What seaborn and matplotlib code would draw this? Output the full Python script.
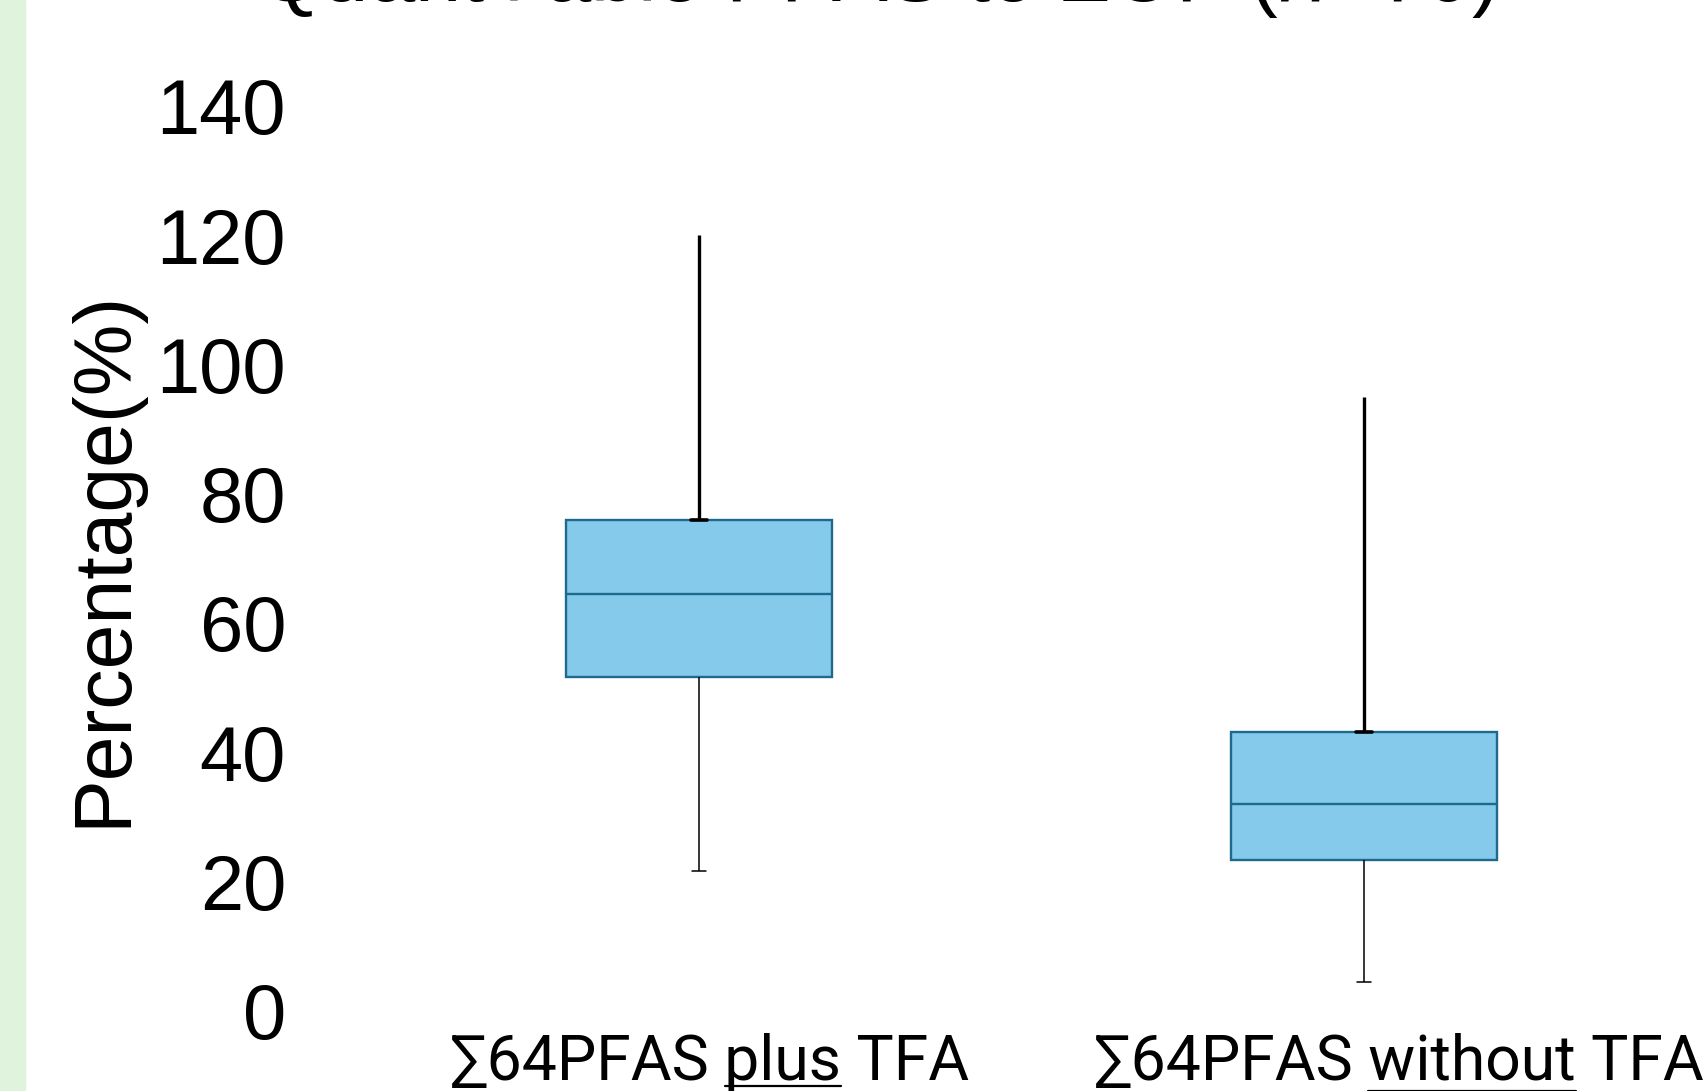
import numpy as np
import pandas as pd
import matplotlib
matplotlib.use("Agg")
import matplotlib.pyplot as plt
import matplotlib.transforms as mtransforms
from matplotlib.lines import Line2D
import seaborn as sns

# ── Data (five-number summaries, in %) ────────────────────────────────────────
groups       = ["plus", "without"]
label_prefix = "∑64PFAS "
label_words  = ["plus", "without"]
label_suffix = " TFA"
minimum      = [21.6, 4.4]
q1           = [51.6, 23.3]
median       = [64.5, 32.0]
q3           = [76.0, 43.1]
maximum      = [120.0, 94.9]
y_ticks      = [0, 20, 40, 60, 80, 100, 120, 140]

title_text   = r"Quantifiable PFAS to ΣOF ($n$=70)"

# ── Style ─────────────────────────────────────────────────────────────────────
_FILL  = "#85CAEA"
_EDGE  = "#1D6A8E"
_GREEN = "#E0F3DC"
_XFONT = 45

sns.set_style("white")
plt.rcParams["font.family"] = ["Roboto", "DejaVu Sans"]
for key in ("text.color", "axes.labelcolor", "xtick.color", "ytick.color"):
    plt.rcParams[key] = "black"

# five values per group -> quartiles land exactly on q1/median/q3
rows = []
for i, g in enumerate(groups):
    for v in (minimum[i], q1[i], median[i], q3[i], maximum[i]):
        rows.append({"group": g, "value": v})
df = pd.DataFrame(rows)

fig = plt.figure(figsize=(17.08, 10.91), dpi=100)
ax = fig.add_axes([0.1756, 0.0734, 0.8176, 0.8297])

sns.boxplot(data=df, x="group", y="value", order=groups, ax=ax,
            whis=np.inf, width=0.4, color=_FILL, saturation=1,
            linecolor=_EDGE, linewidth=1.7,
            whiskerprops=dict(color="black", linewidth=1.1),
            capprops=dict(color="black", linewidth=1.1),
            capwidths=0.02, showfliers=False)

# upper whiskers thicker, cap sits at the box top, no cap at the end
caps = []
for line in ax.lines:
    x, y = line.get_xdata(), line.get_ydata()
    if len(x) != 2:
        continue
    if x[0] == x[1] and y[1] > y[0]:
        line.set_linewidth(2.4)
    elif y[0] == y[1] and abs(x[1] - x[0]) < 0.1:
        caps.append(line)
for i in range(len(groups)):
    pos_caps = [c for c in caps if abs(np.mean(c.get_xdata()) - i) < 0.05]
    pos_caps.sort(key=lambda c: c.get_ydata()[0])
    if len(pos_caps) == 2:
        upper = pos_caps[1]
        upper.set_ydata([q3[i], q3[i]])
        upper.set_linewidth(2.6)
        c = np.mean(upper.get_xdata())
        upper.set_xdata([c - 0.012, c + 0.012])

ax.set_ylim(0, 140)
ax.set_xlim(-0.6, 1.5)
ax.set_yticks(y_ticks)
ax.set_yticklabels([str(t) for t in y_ticks], fontfamily="Liberation Sans", fontsize=56)
ax.set_xticks(range(len(groups)))
ax.set_xticklabels([label_prefix + w + label_suffix for w in label_words], fontsize=_XFONT)
ax.tick_params(axis="both", length=0)
ax.tick_params(axis="y", pad=10)
ax.tick_params(axis="x", pad=16)
ax.set_xlabel("")
ax.set_ylabel("Percentage(%)", fontfamily="Liberation Sans", fontsize=58, labelpad=10)
for s in ax.spines.values():
    s.set_visible(False)
ax.grid(False)

# x labels sit a little right of the boxes in the reference
for lab, dx in zip(ax.get_xticklabels(), [11, 35]):
    lab.set_transform(lab.get_transform()
                      + mtransforms.ScaledTranslation(dx / 100, 0, fig.dpi_scale_trans))

# title (cropped at the top in the reference)
fig.text(0.513, 0.999, title_text, ha="center", va="baseline",
         fontfamily="Liberation Sans", fontsize=60)

# light green strip on the left edge
fig.patches.append(plt.Rectangle((0, 0), 25 / 1708, 1, transform=fig.transFigure,
                                 color=_GREEN, zorder=-1))

# underline the middle word of each x label
fig.canvas.draw()
renderer = fig.canvas.get_renderer()
W, H = fig.bbox.width, fig.bbox.height
for lab, word in zip(ax.get_xticklabels(), label_words):
    prop = lab.get_fontproperties()
    bb = lab.get_window_extent(renderer)
    _, _, d = renderer.get_text_width_height_descent(lab.get_text(), prop, ismath=False)
    w_pre = renderer.get_text_width_height_descent(label_prefix + word, prop, ismath=False)[0]
    w_word = renderer.get_text_width_height_descent(word, prop, ismath=False)[0]
    x0 = bb.x0 + w_pre - w_word
    x1 = bb.x0 + w_pre
    yb = bb.y0 + d - 0.09 * _XFONT * 100 / 72
    fig.add_artist(Line2D([x0 / W, x1 / W], [yb / H, yb / H], color="black",
                          linewidth=1.6, transform=fig.transFigure))

fig.savefig("out.png", dpi=100)
plt.close(fig)
